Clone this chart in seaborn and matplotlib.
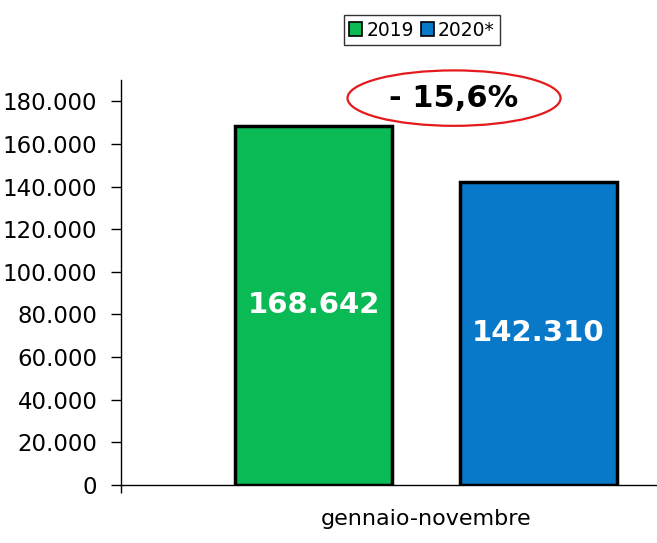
import numpy as np
import pandas as pd
import seaborn as sns
import matplotlib as mpl
from matplotlib import pyplot as plt
from matplotlib.patches import Ellipse
from matplotlib.ticker import FuncFormatter

sns.set_style("white")
plt.rcParams["font.family"] = ["DejaVu Sans"]
plt.rcParams["text.color"] = "black"
plt.rcParams["xtick.color"] = "black"
plt.rcParams["ytick.color"] = "black"

periodo = ["gennaio-novembre"]
anni = ["2019", "2020*"]
valori = [168642, 142310]
variazione = "- 15,6%"
colori = ["#0aba55", "#0878c8"]

df = pd.DataFrame({"periodo": periodo * 2, "anno": anni, "valore": valori})

fig = plt.figure(figsize=(6.57, 5.43), dpi=100)
ax = fig.add_axes([121 / 657, 58 / 543, 1 - 121 / 657, 405 / 543])

sns.barplot(data=df, x="periodo", y="valore", hue="anno", palette=colori,
            gap=0.3, edgecolor="black", linewidth=2.5, saturation=1,
            legend=True, ax=ax)

xmin = -0.544
ax.set_ylim(0, 190000)
ax.set_xlim(xmin, 0.412)
ax.set_yticks(np.arange(0, 180001, 20000))
ax.yaxis.set_major_formatter(FuncFormatter(lambda v, p: f"{int(v):,}".replace(",", ".")))
ax.tick_params(axis="y", labelsize=16.5, length=7, width=1, direction="out", left=True, pad=10)
ax.tick_params(axis="x", which="major", labelsize=16, length=0, pad=17)
ax.set_xticks([xmin], minor=True)
ax.tick_params(axis="x", which="minor", length=6, width=1, direction="out", bottom=True)
ax.set_xlabel("")
ax.set_ylabel("")
for s in ["top", "right"]:
    ax.spines[s].set_visible(False)
for s in ["left", "bottom"]:
    ax.spines[s].set_color("black")
    ax.spines[s].set_linewidth(1)

# etichette nei bar
for cont in ax.containers:
    lab = [f"{int(b.get_height()):,}".replace(",", ".") for b in cont]
    ax.bar_label(cont, labels=lab, label_type="center", color="white",
                 fontsize=21, fontweight="bold")

# variazione percentuale con ellisse
ax.add_patch(Ellipse((0.05, 181500), 0.38, 26000, fill=False, edgecolor="#e41a1c",
                     linewidth=1.6, clip_on=False))
ax.text(0.05, 181500, variazione, ha="center", va="center", fontsize=22,
        fontweight="bold", color="black")

leg = ax.legend(loc="center", bbox_to_anchor=(422 / 657, 1 - 30 / 543),
                bbox_transform=fig.transFigure, ncol=2, frameon=True,
                fontsize=13.5, handlelength=0.7, handleheight=0.7,
                handletextpad=0.2, columnspacing=0.4, borderpad=0.3,
                fancybox=False)
leg.get_frame().set_edgecolor("black")
leg.get_frame().set_linewidth(1)
for h in leg.legend_handles:
    h.set_edgecolor("black")
    h.set_linewidth(1.2)

fig.savefig("out.png", dpi=100)
